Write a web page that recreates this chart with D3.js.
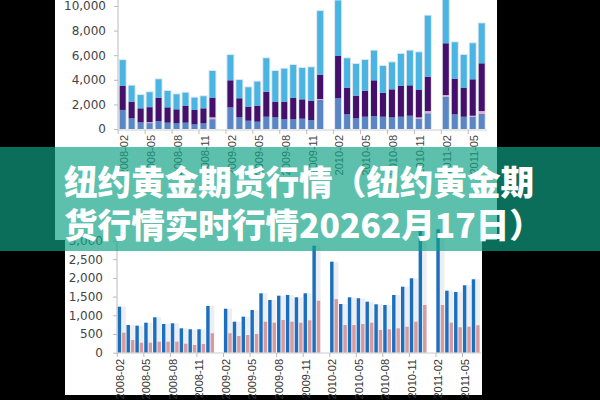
<!DOCTYPE html>
<html>
<head>
<meta charset="utf-8">
<script src="https://cdn.jsdelivr.net/npm/d3@7"></script>
<style>
  body { margin: 0; background: #000; }
  svg { display: block; }
</style>
</head>
<body>
<script>
// months (January slots are empty in both charts)
var months = ["2008-02","2008-03","2008-04","2008-05","2008-06","2008-07","2008-08","2008-09","2008-10","2008-11","2008-12",
  "2009-01","2009-02","2009-03","2009-04","2009-05","2009-06","2009-07","2009-08","2009-09","2009-10","2009-11","2009-12",
  "2010-01","2010-02","2010-03","2010-04","2010-05","2010-06","2010-07","2010-08","2010-09","2010-10","2010-11","2010-12",
  "2011-01","2011-02","2011-03","2011-04","2011-05","2011-06"];

// top chart, stacked
var topBlue   = [1550,870,500,480,650,515,460,515,380,460,800, null,1760,950,675,595,1000,950,790,790,840,730,2360, null,2500,1195,870,1000,1057,1000,950,1000,1080,810,1275, null,2625,1195,1000,1000,1220];
var topPink   = [0,0,30,80,0,0,0,0,0,0,150, null,0,0,0,0,0,0,0,0,0,0,80, null,0,0,0,0,0,0,0,0,0,140,185, null,135,0,0,80,240];
var topPurple = [1950,1350,1150,1215,1895,1245,1140,1355,1165,1220,1595, null,2200,1550,1140,1275,2030,1270,1430,1730,1570,1570,1975, null,3435,2165,1840,2115,2900,1950,2275,2500,2470,2220,2790, null,4210,2895,2360,2960,3880];
var topSky    = [2100,1300,1080,1215,1495,1330,1220,1080,1000,980,2170, null,2050,1480,1575,1980,2720,2495,2680,2680,2550,2715,5175, null,4515,2390,2575,2495,2410,2170,2195,2600,2820,3065,4960, null,3630,2960,2655,2930,3250];
var topTicks  = [0,2000,4000,6000,8000,10000];

// bottom chart, paired
var botBlue = [1230,740,722,802,946,767,786,652,626,626,1249, null,1176,829,963,1142,1588,1409,1524,1543,1481,1588,2861, null,2433,1302,1481,1455,1364,1294,1275,1543,1765,1989,3300, null,3300,1658,1623,1802,1963];
var botPink = [535,340,267,267,294,294,294,241,206,233,519, null,519,447,473,500,829,802,874,829,802,866,1390, null,1436,740,740,767,802,607,626,652,695,829,1275, null,1275,802,679,695,733];
var botTicks = [0,500,1000,1500,2000,2500,3000];

var title1 = "纽约黄金期货行情（纽约黄金期";
var title2 = "货行情实时行情20262月17日）";

var W = 600, H = 400;
var svg = d3.select("body").append("svg").attr("width", W).attr("height", H);

svg.append("rect").attr("width", W).attr("height", H).attr("fill", "#000");
// white panels
svg.append("rect").attr("x", 55).attr("y", 0).attr("width", 442).attr("height", 240).attr("fill", "#fff");
svg.append("rect").attr("x", 65).attr("y", 240).attr("width", 417).attr("height", 155).attr("fill", "#fff");

var numFont = "DejaVu Sans, Verdana, sans-serif";
var dateFont = "Liberation Sans Narrow, Arial Narrow, sans-serif";

// ---------- top chart ----------
var xTop = d3.scaleBand().domain(months).range([118.2, 486.2]).padding(0);
var yTop = d3.scaleLinear().domain([0, 10000]).range([129, 6]);
var bwTop = 6;

var rowsTop = months.map(function (m, i) {
  return {m: m, blue: topBlue[i], pink: topPink[i], purple: topPurple[i], sky: topSky[i]};
}).filter(function (d) { return d.blue != null; });

var stack = d3.stack().keys(["blue", "pink", "purple", "sky"]);
var series = stack(rowsTop);
var cTop = {blue: "#5b86c6", pink: "#e2a9c8", purple: "#44106a", sky: "#4ab4e2"};

var gTop = svg.append("g");
// faint halo behind each stack
gTop.selectAll("rect.halo").data(rowsTop).enter().append("rect")
  .attr("x", function (d) { return xTop(d.m) + (xTop.step() - bwTop) / 2 - 1; })
  .attr("y", function (d) { return yTop(d.blue + d.pink + d.purple + d.sky) - 1; })
  .attr("width", bwTop + 2)
  .attr("height", function (d) { return yTop(0) - yTop(d.blue + d.pink + d.purple + d.sky) + 1; })
  .attr("fill", "#dde6ee");

series.forEach(function (s) {
  gTop.selectAll("rect." + s.key).data(s).enter().append("rect")
    .attr("x", function (d) { return xTop(d.data.m) + (xTop.step() - bwTop) / 2; })
    .attr("y", function (d) { return yTop(d[1]); })
    .attr("width", bwTop)
    .attr("height", function (d) { return Math.max(0, yTop(d[0]) - yTop(d[1])); })
    .attr("fill", cTop[s.key]);
});

var axTop = svg.append("g").attr("transform", "translate(118,0)")
  .call(d3.axisLeft(yTop).tickValues(topTicks).tickFormat(d3.format(",")).tickSize(4).tickPadding(8));
axTop.select(".domain").attr("stroke", "#bbb").attr("d", "M0,0V130");
axTop.selectAll(".tick line").attr("stroke", "#bbb");
axTop.selectAll("text").attr("font-family", numFont).attr("font-size", 12).attr("fill", "#444");

var every3 = months.filter(function (m, i) { return i % 3 === 0; });
var axTopX = svg.append("g").attr("transform", "translate(0,130)")
  .call(d3.axisBottom(xTop).tickValues(every3).tickSize(0).tickPadding(0));
axTopX.select(".domain").attr("stroke", "#ccc").attr("d", "M118,0H487");
axTopX.selectAll(".tick").append("line")
  .attr("x1", -xTop.step() / 2).attr("x2", -xTop.step() / 2)
  .attr("y1", 0).attr("y2", 4).attr("stroke", "#bbb");
axTopX.selectAll(".tick text")
  .attr("transform", "translate(1.5,5) rotate(-90)")
  .attr("text-anchor", "end").attr("dy", "0.35em").attr("y", 0)
  .attr("font-family", dateFont).attr("font-size", 11).attr("fill", "#444");

// ---------- bottom chart ----------
var xBot = d3.scaleBand().domain(months).range([117.3, 480.2]).padding(0);
var yBot = d3.scaleLinear().domain([0, 3000]).range([352.7, 240.5]);
var rowsBot = months.map(function (m, i) {
  return {m: m, blue: botBlue[i], pink: botPink[i]};
}).filter(function (d) { return d.blue != null; });

var gBot = svg.append("g");
gBot.selectAll("rect.bg").data(rowsBot).enter().append("rect")
  .attr("x", function (d) { return xBot(d.m) + 0.3; })
  .attr("y", function (d) { return yBot(d.blue); })
  .attr("width", xBot.step() - 0.6)
  .attr("height", function (d) { return yBot(0) - yBot(d.blue); })
  .attr("fill", "#ebeef2");
gBot.selectAll("rect.b").data(rowsBot).enter().append("rect")
  .attr("x", function (d) { return xBot(d.m) + 0.4; })
  .attr("y", function (d) { return yBot(d.blue); })
  .attr("width", 3.4)
  .attr("height", function (d) { return yBot(0) - yBot(d.blue); })
  .attr("fill", "#1c6fbe");
gBot.selectAll("rect.p").data(rowsBot).enter().append("rect")
  .attr("x", function (d) { return xBot(d.m) + 4.8; })
  .attr("y", function (d) { return yBot(d.pink); })
  .attr("width", 3.4)
  .attr("height", function (d) { return yBot(0) - yBot(d.pink); })
  .attr("fill", "#d79a9e");

var axBot = svg.append("g").attr("transform", "translate(117,0)")
  .call(d3.axisLeft(yBot).tickValues(botTicks).tickFormat(d3.format(",")).tickSize(4).tickPadding(10));
axBot.select(".domain").attr("stroke", "#bbb").attr("d", "M0,236V353");
axBot.selectAll(".tick line").attr("stroke", "#bbb");
axBot.selectAll("text").attr("font-family", numFont).attr("font-size", 12).attr("fill", "#444");

var axBotX = svg.append("g").attr("transform", "translate(0,353)")
  .call(d3.axisBottom(xBot).tickValues(every3).tickSize(0).tickPadding(0));
axBotX.select(".domain").attr("stroke", "#ccc").attr("d", "M117,0H481");
axBotX.selectAll(".tick").append("line")
  .attr("x1", -xBot.step() / 2).attr("x2", -xBot.step() / 2)
  .attr("y1", 0).attr("y2", 4).attr("stroke", "#bbb");
axBotX.selectAll(".tick text")
  .attr("transform", "translate(" + (-xBot.step() / 2 + 2.5) + ",6) rotate(-90)")
  .attr("text-anchor", "end").attr("dy", "0.35em").attr("y", 0)
  .attr("font-family", dateFont).attr("font-size", 11).attr("fill", "#333");

// ---------- banner ----------
svg.append("rect").attr("x", 0).attr("y", 147).attr("width", W).attr("height", 104)
  .attr("fill", "rgb(16,162,132)").attr("fill-opacity", 0.68);
svg.selectAll("text.title").data([title1, title2]).enter().append("text")
  .attr("class", "title")
  .attr("x", 64)
  .attr("y", function (d, i) { return 195 + i * 43; })
  .attr("font-family", "Noto Sans CJK SC, sans-serif")
  .attr("font-weight", 900)
  .attr("font-size", 33.6)
  .attr("fill", "#fff")
  .text(function (d) { return d; });
</script>
</body>
</html>
